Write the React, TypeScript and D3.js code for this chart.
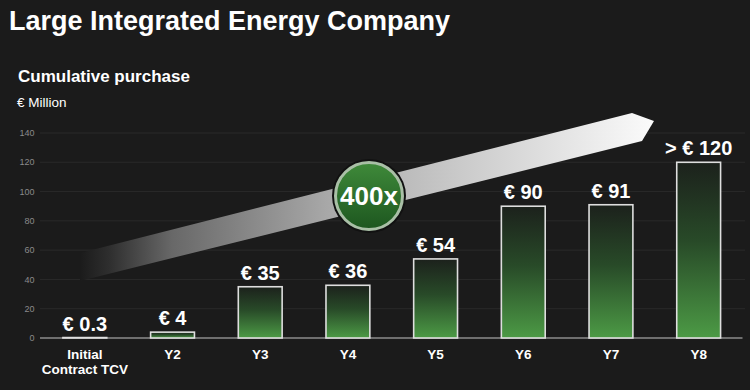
import React from "react";
import * as d3 from "d3";

const title = "Large Integrated Energy Company";
const subtitle = "Cumulative purchase";
const unitLabel = "€ Million";
const categories = ["Initial|Contract TCV", "Y2", "Y3", "Y4", "Y5", "Y6", "Y7", "Y8"];
const values = [0.3, 4, 35, 36, 54, 90, 91, 120];
const valueLabels = ["€ 0.3", "€ 4", "€ 35", "€ 36", "€ 54", "€ 90", "€ 91", "> € 120"];
const yTicks = [0, 20, 40, 60, 80, 100, 120, 140];
const badgeText = "400x";

const W = 750;
const H = 390;
const FONT = "'Liberation Sans', Arial, Helvetica, sans-serif";
const BG = "#1b1b1b";

export default function App() {
  const x = d3.scaleBand<string>().domain(categories).range([41, 742.5]).paddingInner(0.5).paddingOuter(0.25);
  const y = d3.scaleLinear().domain([0, 140]).range([338, 133]);

  // arrow geometry
  const arrowPts: [number, number][] = [
    [80, 253],
    [632, 113],
    [654, 121],
    [642, 141],
    [80, 281],
  ];
  const arrowPath = d3.line()(arrowPts) + "Z";

  return (
    <svg
      width={W}
      height={H}
      viewBox={`0 0 ${W} ${H}`}
      style={{ position: "absolute", left: 0, top: 0, display: "block", background: BG }}
      fontFamily={FONT}
    >
      <defs>
        <linearGradient id="barGrad" x1="0" y1="0" x2="0" y2="1">
          <stop offset="0" stopColor="#1c211c" />
          <stop offset="0.45" stopColor="#284a28" />
          <stop offset="1" stopColor="#4c9a45" />
        </linearGradient>
        <linearGradient id="arrowGrad" gradientUnits="userSpaceOnUse" x1="80" y1="0" x2="655" y2="0">
          <stop offset="0" stopColor={BG} />
          <stop offset="0.05" stopColor="#2e2e2e" />
          <stop offset="0.16" stopColor="#686868" />
          <stop offset="0.43" stopColor="#a8a8a8" />
          <stop offset="0.73" stopColor="#d4d4d4" />
          <stop offset="1" stopColor="#fbfbfb" />
        </linearGradient>
        <linearGradient id="badgeGrad" x1="0" y1="0" x2="0" y2="1">
          <stop offset="0" stopColor="#3f8a3a" />
          <stop offset="1" stopColor="#1d561f" />
        </linearGradient>
      </defs>

      <rect x={0} y={0} width={W} height={H} fill={BG} />

      {/* Titles */}
      <text x={9} y={30} fill="#ffffff" fontSize={27} fontWeight="bold">{title}</text>
      <text x={18} y={81.5} fill="#ffffff" fontSize={17} fontWeight="bold">{subtitle}</text>
      <text x={17} y={106.5} fill="#ffffff" fontSize={13.5}>{unitLabel}</text>

      {/* Grid lines & y tick labels */}
      {yTicks.map((t) => (
        <g key={t}>
          {t > 0 && (
            <line x1={40} x2={745} y1={y(t)} y2={y(t)} stroke="#2a2a2a" strokeWidth={1} />
          )}
          <text x={34.5} y={y(t)} dy="0.35em" textAnchor="end" fill="#8a8a8a" fontSize={9}>
            {t}
          </text>
        </g>
      ))}

      {/* Arrow */}
      <path d={arrowPath} fill="url(#arrowGrad)" />

      {/* Baseline */}
      <line x1={40} x2={742.5} y1={y(0)} y2={y(0)} stroke="#8c8c8c" strokeWidth={1.5} />

      {/* Bars */}
      {categories.map((c, i) => {
        const x0 = x(c) as number;
        const top = y(values[i]);
        return (
          <g key={c}>
            <rect
              x={x0}
              y={top}
              width={x.bandwidth()}
              height={y(0) - top}
              fill="url(#barGrad)"
              stroke="#dedede"
              strokeWidth={1.6}
            />
            <text
              x={x0 + x.bandwidth() / 2}
              y={top - 7}
              textAnchor="middle"
              fill="#ffffff"
              fontSize={20}
              fontWeight="bold"
            >
              {valueLabels[i]}
            </text>
            {c.split("|").map((line, j) => (
              <text
                key={j}
                x={x0 + x.bandwidth() / 2}
                y={358.5 + j * 15}
                textAnchor="middle"
                fill="#ffffff"
                fontSize={13.5}
                fontWeight="bold"
              >
                {line}
              </text>
            ))}
          </g>
        );
      })}

      {/* Badge */}
      <circle cx={369} cy={196} r={37} fill="#111111" />
      <circle cx={369} cy={196} r={33.5} fill="url(#badgeGrad)" stroke="#a9bfa6" strokeWidth={3} />
      <text x={369} y={205} textAnchor="middle" fill="#ffffff" fontSize={26} fontWeight="bold">
        {badgeText}
      </text>
    </svg>
  );
}
